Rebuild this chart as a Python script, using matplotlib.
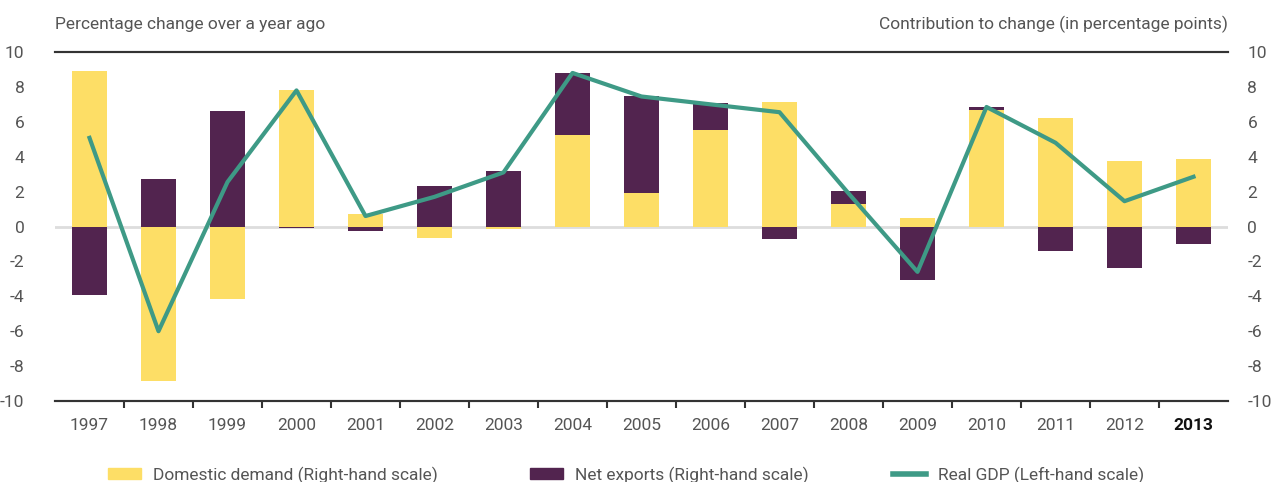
import matplotlib
matplotlib.use('Agg')
from matplotlib import pyplot as plt
from matplotlib.patches import Patch
from matplotlib.lines import Line2D
import numpy as np

years = ['1997', '1998', '1999', '2000', '2001', '2002', '2003', '2004', '2005',
         '2006', '2007', '2008', '2009', '2010', '2011', '2012', '2013']
domestic = [8.9, -8.85, -4.15, 7.8, 0.74, -0.68, -0.15, 5.27, 1.9,
            5.55, 7.15, 1.28, 0.46, 6.65, 6.2, 3.78, 3.84]
net_exports = [-3.95, 2.75, 6.6, -0.08, -0.27, 2.3, 3.2, 3.5, 5.55,
               1.5, -0.72, 0.78, -3.07, 0.17, -1.4, -2.35, -1.03]
real_gdp = [5.08, -6.0, 2.55, 7.8, 0.6, 1.7, 3.1, 8.8, 7.45,
            7.0, 6.55, 1.9, -2.6, 6.85, 4.8, 1.45, 2.85]

c_dom = '#FDDE66'
c_nx = '#52244F'
c_gdp = '#3E9A86'
c_text = '#555555'
fs = 12.5

plt.rcParams['font.family'] = ['Roboto', 'DejaVu Sans']
plt.rcParams['axes.unicode_minus'] = False

fig = plt.figure(figsize=(12.73, 4.82), dpi=100)
ax = fig.add_axes([55 / 1273, 1 - 401 / 482, (1228 - 55) / 1273, (401 - 52) / 482])
ax2 = ax.twinx()

x = np.arange(len(years))
dom = np.array(domestic)
nx = np.array(net_exports)
nx_bottom = np.where(np.sign(nx) == np.sign(dom), dom, 0)

ax2.axhline(0, color='#DDDDDD', lw=2, zorder=0)
ax2.bar(x, dom, width=0.5, color=c_dom, zorder=2)
ax2.bar(x, nx, width=0.5, bottom=nx_bottom, color=c_nx, zorder=2)

ax.plot(x, real_gdp, color=c_gdp, lw=3, zorder=5)
ax.set_zorder(ax2.get_zorder() + 1)
ax.patch.set_visible(False)

for a in (ax, ax2):
    a.set_ylim(-10, 10)
    a.set_yticks(range(-10, 11, 2))
    a.set_xlim(-0.5, len(years) - 0.5)
    for s in ('left', 'right'):
        a.spines[s].set_visible(False)
    a.spines['top'].set_color('#333333')
    a.spines['bottom'].set_color('#333333')
    a.spines['top'].set_linewidth(1.5)
    a.spines['bottom'].set_linewidth(1.5)
    a.tick_params(axis='y', length=0, labelsize=fs, labelcolor=c_text)

ax.tick_params(axis='y', pad=22)
ax2.tick_params(axis='y', pad=14)

ax.set_xticks(x)
ax.set_xticklabels(years)
ax.tick_params(axis='x', which='major', length=0, labelsize=fs, labelcolor=c_text, pad=12)
ax.set_xticks(x[:-1] + 0.5, minor=True)
ax.tick_params(axis='x', which='minor', length=5, width=1.5, color='#333333', direction='out')
ax2.tick_params(axis='x', which='both', length=0)
last = ax.get_xticklabels()[-1]
last.set_fontweight('bold')
last.set_color('#111111')

fig.text(55 / 1273, 1 - 25 / 482, 'Percentage change over a year ago',
         ha='left', va='center', fontsize=fs, color=c_text)
fig.text(1228 / 1273, 1 - 24 / 482, 'Contribution to change (in percentage points)',
         ha='right', va='center', fontsize=fs, color=c_text)

# legend entries placed one by one to match the reference spacing
handles = [Patch(color=c_dom), Patch(color=c_nx), Line2D([], [], color=c_gdp, lw=4)]
labels = ['Domestic demand (Right-hand scale)', 'Net exports (Right-hand scale)',
          'Real GDP (Left-hand scale)']
starts = [92, 514, 877]
for h, l, sx in zip(handles, labels, starts):
    fig.legend([h], [l], loc='center left', bbox_to_anchor=(sx / 1273, 1 - 475 / 482),
               frameon=False, fontsize=fs, labelcolor=c_text, handlelength=1.9,
               handleheight=0.6, handletextpad=0.7)

fig.savefig('out.png', dpi=100)
plt.close()
